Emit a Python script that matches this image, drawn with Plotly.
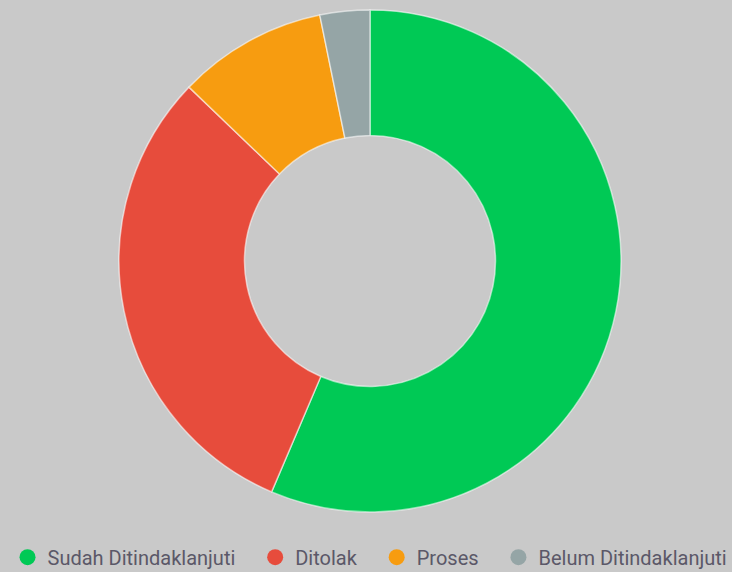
import plotly.graph_objects as go

labels = ['Sudah Ditindaklanjuti', 'Ditolak', 'Proses', 'Belum Ditindaklanjuti']
values = [88, 48, 15, 5]
colors = ['#00c955', '#e74c3c', '#f79c10', '#95a5a6']

fig = go.Figure()
fig.add_trace(go.Pie(labels=labels, values=values, hole=0.5, sort=False,
                     direction='clockwise', rotation=0, textinfo='none',
                     hoverinfo='label+value+percent', showlegend=False,
                     marker=dict(colors=colors, line=dict(color='rgba(255,255,255,0.55)', width=1.5))))

# circle markers for the legend (nbsp padding to widen the gaps)
pad = '\u00a0' * 3
for i, (lab, col) in enumerate(zip(labels, colors)):
    name = lab if i == len(labels) - 1 else lab + pad
    fig.add_trace(go.Scatter(x=[None], y=[None], mode='markers', name=name,
                             marker=dict(color=col, size=20, symbol='circle')))

fig.update_layout(width=732, height=572,
                  paper_bgcolor='#c9c9c9', plot_bgcolor='#c9c9c9',
                  margin=dict(l=8, r=0, t=10, b=60),
                  xaxis=dict(visible=False), yaxis=dict(visible=False),
                  font=dict(family='Roboto', size=20, color='#5b5868'),
                  legend=dict(orientation='h', xref='container', yref='container',
                              x=0.5055, xanchor='center', y=0.026, yanchor='middle',
                              bgcolor='rgba(0,0,0,0)', itemsizing='trace'))

fig.write_html("out.html", config={'displayModeBar': False},
               post_script="document.body.style.margin='0';")
